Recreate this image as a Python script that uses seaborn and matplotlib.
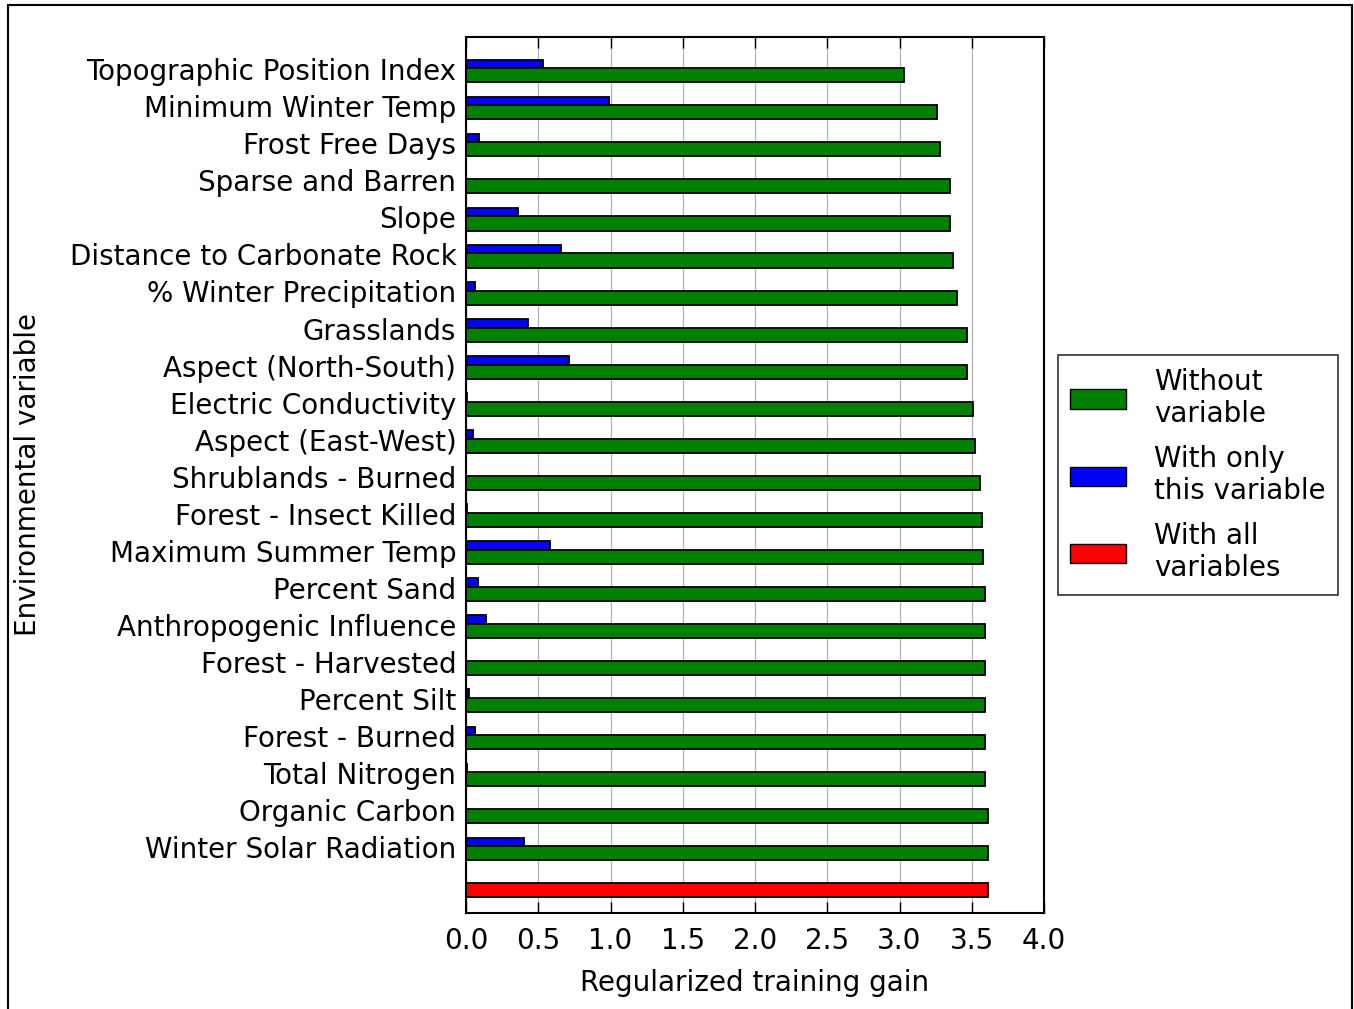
import numpy as np
import pandas as pd
import matplotlib.pyplot as plt
import seaborn as sns
from matplotlib.patches import Patch
from matplotlib.lines import Line2D

variables = ["Topographic Position Index", "Minimum Winter Temp", "Frost Free Days",
             "Sparse and Barren", "Slope", "Distance to Carbonate Rock",
             "% Winter Precipitation", "Grasslands", "Aspect (North-South)",
             "Electric Conductivity", "Aspect (East-West)", "Shrublands - Burned",
             "Forest - Insect Killed", "Maximum Summer Temp", "Percent Sand",
             "Anthropogenic Influence", "Forest - Harvested", "Percent Silt",
             "Forest - Burned", "Total Nitrogen", "Organic Carbon", "Winter Solar Radiation"]
without_var = [3.03, 3.26, 3.28, 3.35, 3.35, 3.37, 3.40, 3.47, 3.47, 3.51, 3.52,
               3.56, 3.57, 3.58, 3.59, 3.59, 3.59, 3.59, 3.59, 3.59, 3.61, 3.61]
only_var = [0.53, 0.99, 0.09, 0.0, 0.36, 0.66, 0.06, 0.43, 0.71, 0.01, 0.05,
            0.0, 0.01, 0.58, 0.08, 0.14, 0.0, 0.02, 0.06, 0.01, 0.0, 0.40]
all_vars = 3.61

sns.set_style("white")
plt.rcParams['font.family'] = ['DejaVu Sans']
plt.rcParams.update({"text.color": "black", "axes.labelcolor": "black",
                     "xtick.color": "black", "ytick.color": "black"})
FS = 20

rows = np.arange(len(variables))
off = 0.115
df_green = pd.DataFrame({"gain": without_var, "pos": rows + off})
df_blue = pd.DataFrame({"gain": only_var, "pos": rows - off})
df_red = pd.DataFrame({"gain": [all_vars], "pos": [len(variables) + off]})

fig = plt.figure(figsize=(13.54, 10.09), dpi=100)
ax = fig.add_axes([466 / 1354, 1 - 913 / 1009, 578 / 1354, 876 / 1009])

kw = dict(x="gain", y="pos", orient="y", native_scale=True, width=0.38,
          edgecolor="black", linewidth=1.3, errorbar=None, ax=ax)
sns.barplot(data=df_blue, color="#0000ff", saturation=1, **kw)
sns.barplot(data=df_green, color="#008000", saturation=1, **kw)
sns.barplot(data=df_red, color="#ff0000", saturation=1, **kw)

ax.set_xlim(0, 4)
ax.set_ylim(len(variables) + 0.73, -0.92)
ax.set_xticks(np.arange(0, 4.01, 0.5))
ax.set_xticklabels([f"{v:.1f}" for v in np.arange(0, 4.01, 0.5)], fontsize=FS)
ax.set_yticks(list(rows - 0.05) + [len(variables)])
ax.set_yticklabels(variables + [""], fontsize=FS)
ax.tick_params(axis="y", length=0, pad=7)
ax.tick_params(axis="x", direction="in", length=8, width=1, top=True, bottom=True, pad=10)
ax.xaxis.grid(True, color="#b0b0b0", linewidth=0.9)
ax.set_axisbelow(True)
for s in ax.spines.values():
    s.set_visible(True)
    s.set_color("black")
    s.set_linewidth(1.5)

ax.set_xlabel("Regularized training gain", fontsize=FS, labelpad=10)
ax.set_ylabel("Environmental variable", fontsize=FS)
ax.yaxis.set_label_coords(-0.733, 0.5)

handles = [Patch(facecolor="#008000", edgecolor="black", label="Without\nvariable"),
           Patch(facecolor="#0000ff", edgecolor="black", label="With only\nthis variable"),
           Patch(facecolor="#ff0000", edgecolor="black", label="With all\nvariables")]
leg = ax.legend(handles=handles, loc="center left", bbox_to_anchor=(1.024, 0.5),
                borderaxespad=0, fontsize=FS, frameon=True, fancybox=False,
                edgecolor="black", handlelength=2.0, handleheight=0.7,
                labelspacing=0.6, borderpad=0.45, handletextpad=1.0)
leg.get_frame().set_linewidth(1.2)

# screenshot frame around the figure
fig.add_artist(Line2D([8 / 1354, 8 / 1354], [0, 1 - 5 / 1009], color="black", lw=1.5))
fig.add_artist(Line2D([8 / 1354, 1352 / 1354], [1 - 5 / 1009, 1 - 5 / 1009], color="black", lw=1.5))
fig.add_artist(Line2D([1352 / 1354, 1352 / 1354], [0, 1 - 5 / 1009], color="black", lw=1.5))

fig.savefig("out.png", dpi=100)
